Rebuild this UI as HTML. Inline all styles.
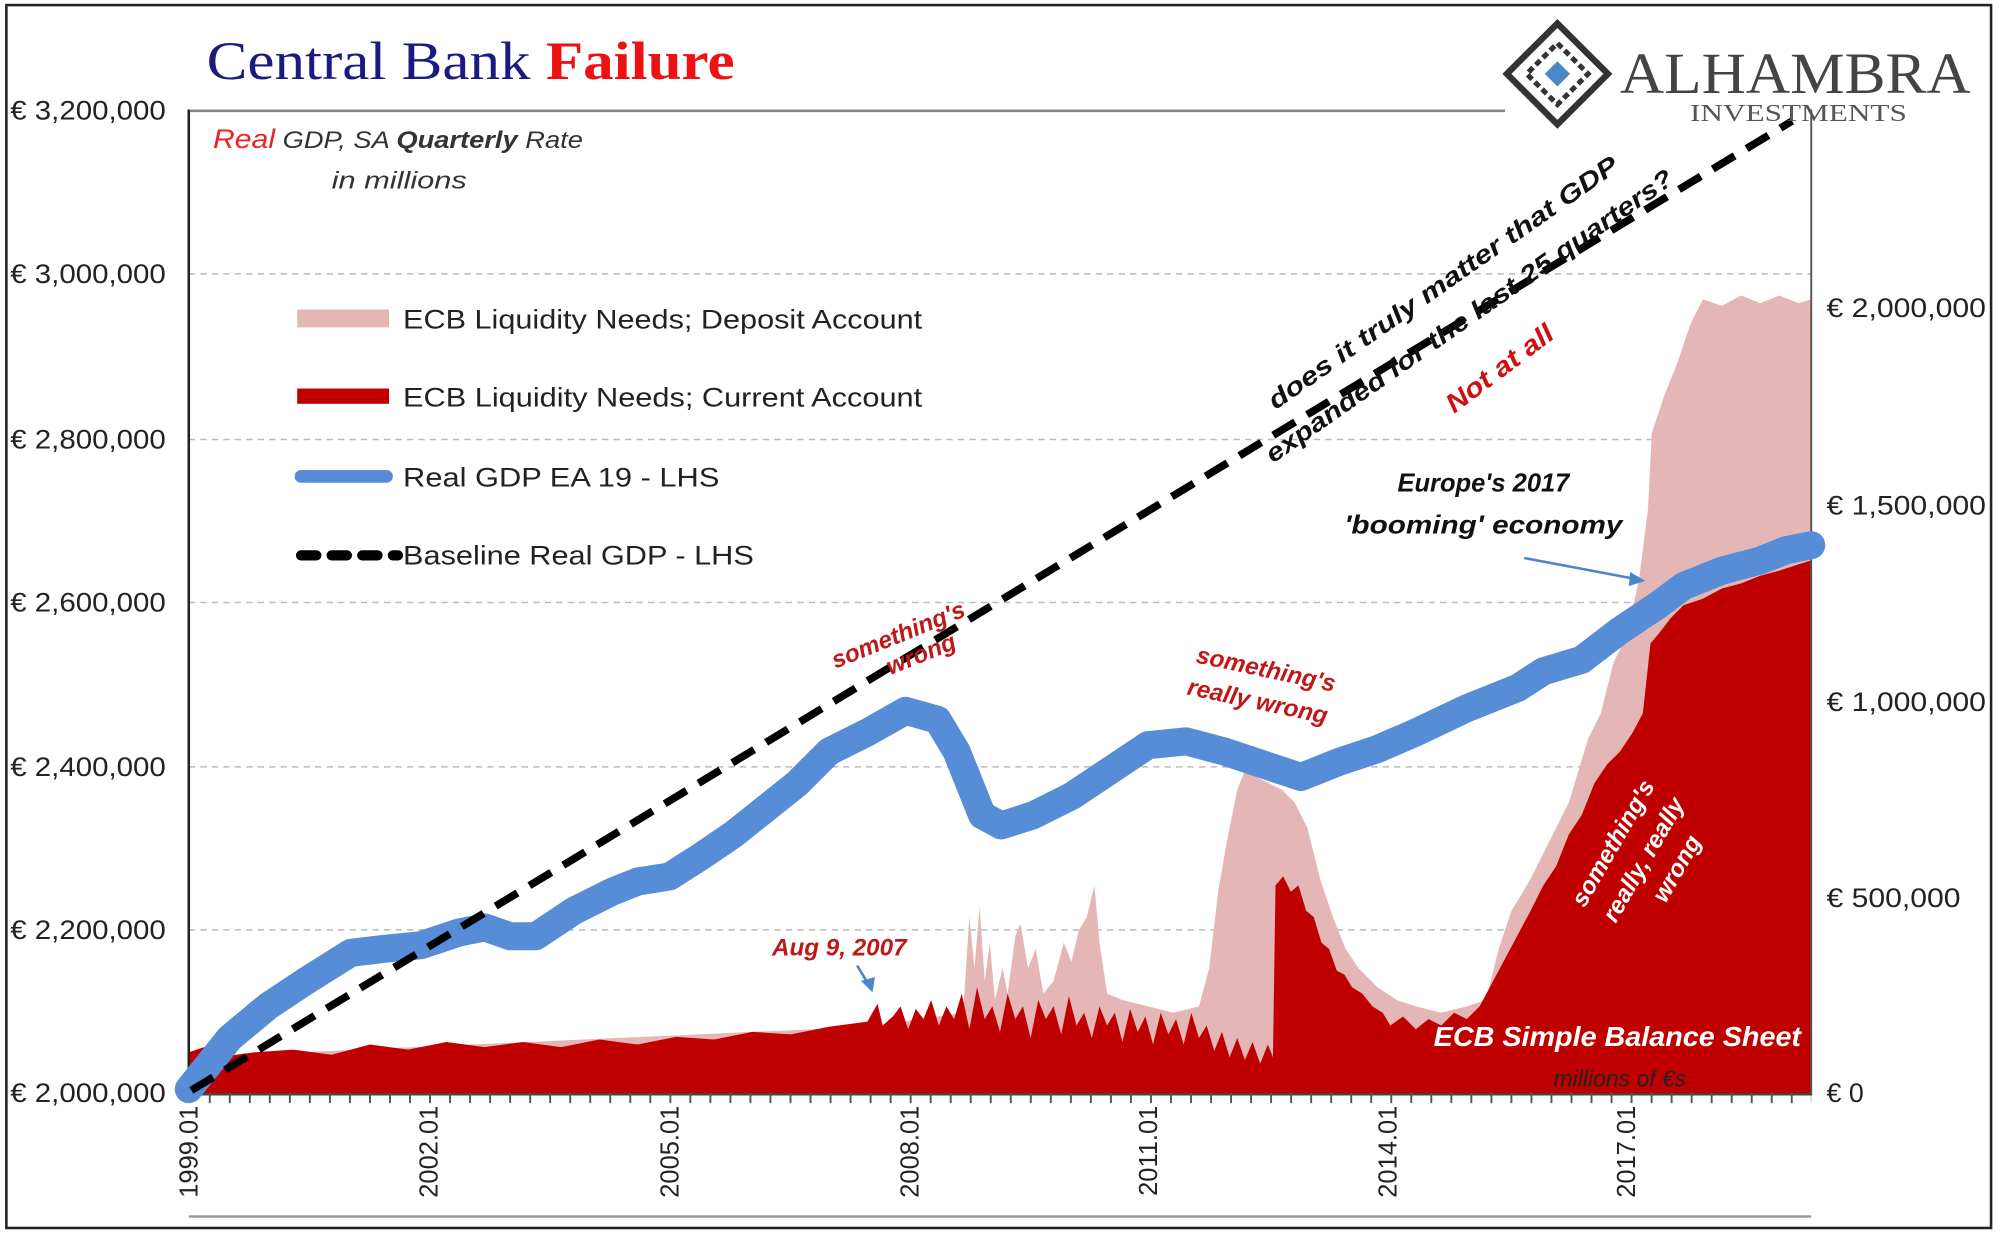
<!DOCTYPE html>
<html><head><meta charset="utf-8"><style>
html,body{margin:0;padding:0;background:#fff}
svg{display:block}
text{font-family:"Liberation Sans",sans-serif}
</style></head><body>
<svg width="2000" height="1242" viewBox="0 0 1568 975" preserveAspectRatio="none" xmlns="http://www.w3.org/2000/svg">
<rect x="0" y="0" width="1568" height="975" fill="#fff"/>
<rect x="5" y="4" width="1556" height="960" fill="none" stroke="#222" stroke-width="2"/>
<g stroke="#bbb" stroke-width="1.2" stroke-dasharray="5,4">
<line x1="148" y1="215" x2="1420" y2="215"/><line x1="148" y1="345" x2="1420" y2="345"/>
<line x1="148" y1="473" x2="1420" y2="473"/><line x1="148" y1="602" x2="1420" y2="602"/>
<line x1="148" y1="730" x2="1420" y2="730"/>
</g>
<line x1="148" y1="87" x2="1180" y2="87" stroke="#888" stroke-width="2"/>
<path fill="#e4b6b6" d="M148,858 L148,830 L680,806 L755,795 L760,720 L764,760 L768,712 L772,770 L776,740 L780,785 L786,760 L790,780 L796,735 L800,725 L806,760 L812,745 L818,780 L826,770 L834,740 L840,755 L846,730 L852,720 L858,695 L862,740 L868,780 L880,785 L900,790 L920,795 L940,790 L948,760 L955,700 L962,660 L970,620 L976,605 L985,610 L995,615 L1005,620 L1015,630 L1025,650 L1035,690 L1045,720 L1055,745 L1065,760 L1080,775 L1095,785 L1110,790 L1130,795 L1150,790 L1165,785 L1175,745 L1185,715 L1200,690 L1215,660 L1230,630 L1245,580 L1255,560 L1265,520 L1275,500 L1285,455 L1292,400 L1295,340 L1305,310 L1315,285 L1325,255 L1335,235 L1350,240 L1365,232 L1380,238 L1395,232 L1410,238 L1420,235 L1420,858 Z"/>
<path fill="#c00000" d="M148,858 L148,826 L160,822 L170,830 L200,826 L230,824 L260,828 L290,820 L320,824 L350,818 L380,822 L410,818 L440,822 L470,816 L500,820 L530,814 L560,816 L590,810 L620,812 L650,806 L680,802 L688,788 L692,805 L700,798 L706,790 L712,808 L718,792 L724,800 L730,785 L736,805 L742,790 L748,800 L754,780 L760,808 L766,775 L772,800 L778,790 L784,810 L790,780 L796,800 L802,790 L808,815 L814,785 L820,800 L826,790 L832,812 L838,782 L844,805 L850,795 L856,815 L862,790 L868,805 L874,795 L880,818 L886,792 L892,810 L898,798 L904,820 L910,795 L916,812 L922,800 L928,820 L934,795 L940,815 L946,805 L952,825 L958,810 L964,830 L970,815 L976,832 L982,818 L988,835 L994,820 L998,830 L1000,695 L1006,688 L1012,700 L1018,695 L1024,715 L1030,720 L1036,740 L1042,745 L1048,762 L1054,765 L1060,775 L1068,780 L1076,790 L1084,795 L1090,805 L1100,798 L1110,808 L1120,800 L1130,805 L1140,795 L1150,800 L1160,790 L1168,775 L1176,760 L1184,745 L1192,730 L1200,715 L1210,695 L1220,680 L1230,655 L1240,640 L1250,615 L1260,600 L1270,590 L1280,575 L1288,560 L1294,505 L1300,498 L1310,485 L1320,475 L1335,470 L1350,462 L1365,458 L1380,452 L1395,448 L1410,443 L1420,440 L1420,858 Z"/>
<line x1="148" y1="86" x2="148" y2="860" stroke="#222" stroke-width="2"/>
<line x1="1420" y1="86" x2="1420" y2="860" stroke="#555" stroke-width="1.5"/>
<line x1="148" y1="859" x2="1420" y2="859" stroke="#444" stroke-width="2"/>
<path stroke="#555" stroke-dasharray="1.5,14.2" d="M148,862 L1420,862" style="stroke-width:8"/>
<line x1="148" y1="955" x2="1420" y2="955" stroke="#999" stroke-width="2"/>
<polyline fill="none" stroke="#568dd6" stroke-width="22" stroke-linejoin="round" stroke-linecap="round" points="148,855 180,815 210,790 240,770 275,748 300,745 330,742 360,732 380,728 400,735 420,735 450,715 480,700 500,692 525,688 550,672 575,655 600,635 625,615 650,590 680,575 710,558 735,565 750,590 770,640 785,648 810,640 840,625 870,605 900,585 930,582 960,590 990,600 1020,610 1050,598 1080,588 1110,575 1150,556 1190,540 1210,527 1240,518 1270,495 1300,475 1320,460 1350,448 1380,440 1400,432 1420,428"/>
<line x1="150" y1="856" x2="1405" y2="95" stroke="#000" stroke-width="6" stroke-dasharray="20,11"/>
<g font-size="21" fill="#222" text-anchor="end">
<text x="130" y="94" textLength="122" lengthAdjust="spacingAndGlyphs">€ 3,200,000</text><text x="130" y="222" textLength="122" lengthAdjust="spacingAndGlyphs">€ 3,000,000</text>
<text x="130" y="352" textLength="122" lengthAdjust="spacingAndGlyphs">€ 2,800,000</text><text x="130" y="480" textLength="122" lengthAdjust="spacingAndGlyphs">€ 2,600,000</text>
<text x="130" y="609" textLength="122" lengthAdjust="spacingAndGlyphs">€ 2,400,000</text><text x="130" y="737" textLength="122" lengthAdjust="spacingAndGlyphs">€ 2,200,000</text>
<text x="130" y="865" textLength="122" lengthAdjust="spacingAndGlyphs">€ 2,000,000</text>
</g>
<g font-size="21" fill="#222">
<text x="1432" y="249" textLength="125" lengthAdjust="spacingAndGlyphs">€ 2,000,000</text><text x="1432" y="404" textLength="125" lengthAdjust="spacingAndGlyphs">€ 1,500,000</text>
<text x="1432" y="558" textLength="125" lengthAdjust="spacingAndGlyphs">€ 1,000,000</text><text x="1432" y="712" textLength="105" lengthAdjust="spacingAndGlyphs">€ 500,000</text>
<text x="1432" y="865">€ 0</text>
</g>
<g font-size="20" fill="#222" text-anchor="end">
<text transform="translate(155,868) rotate(-90)">1999.01</text>
<text transform="translate(343,868) rotate(-90)">2002.01</text>
<text transform="translate(532,868) rotate(-90)">2005.01</text>
<text transform="translate(720,868) rotate(-90)">2008.01</text>
<text transform="translate(907,868) rotate(-90)">2011.01</text>
<text transform="translate(1095,868) rotate(-90)">2014.01</text>
<text transform="translate(1282,868) rotate(-90)">2017.01</text>
</g>
<text x="162" y="62" font-size="42" fill="#1a1a80" style="font-family:'Liberation Serif',serif" textLength="414" lengthAdjust="spacingAndGlyphs">Central Bank <tspan fill="#ee1111" font-weight="bold">Failure</tspan></text>
<text x="167" y="116" font-size="19" font-style="italic" fill="#333" textLength="290" lengthAdjust="spacingAndGlyphs"><tspan fill="#ee2222" font-size="21">Real</tspan> GDP, SA <tspan font-weight="bold">Quarterly</tspan> Rate</text>
<text x="260" y="148" font-size="19" font-style="italic" fill="#333" textLength="106" lengthAdjust="spacingAndGlyphs">in millions</text>
<g transform="translate(1221,58)">
<rect x="-28" y="-28" width="56" height="56" transform="rotate(45)" fill="none" stroke="#333" stroke-width="5"/>
<rect x="-17" y="-17" width="34" height="34" transform="rotate(45)" fill="none" stroke="#333" stroke-width="4" stroke-dasharray="5,3"/>
<rect x="-7" y="-7" width="14" height="14" transform="rotate(45)" fill="#4a86c8"/>
</g>
<text x="1270" y="73" font-size="46" fill="#444" style="font-family:'Liberation Serif',serif" textLength="275" lengthAdjust="spacingAndGlyphs">ALHAMBRA</text>
<text x="1325" y="95" font-size="19" fill="#555" style="font-family:'Liberation Serif',serif" textLength="170" lengthAdjust="spacingAndGlyphs">INVESTMENTS</text>
<rect x="233" y="243" width="72" height="14" fill="#e4b6b6"/>
<rect x="233" y="305" width="72" height="12" fill="#c00000"/>
<line x1="236" y1="374" x2="303" y2="374" stroke="#568dd6" stroke-width="10" stroke-linecap="round"/>
<line x1="236" y1="436" x2="312" y2="436" stroke="#000" stroke-width="8" stroke-linecap="round" stroke-dasharray="12,12"/>
<g font-size="21" fill="#222">
<text x="316" y="258" textLength="407" lengthAdjust="spacingAndGlyphs">ECB Liquidity Needs; Deposit Account</text>
<text x="316" y="319" textLength="407" lengthAdjust="spacingAndGlyphs">ECB Liquidity Needs; Current Account</text>
<text x="316" y="382" textLength="248" lengthAdjust="spacingAndGlyphs">Real GDP EA 19 - LHS</text>
<text x="316" y="443" textLength="275" lengthAdjust="spacingAndGlyphs">Baseline Real GDP - LHS</text>
</g>
<g font-style="italic" font-weight="bold">
<text transform="translate(1000,322) rotate(-35)" font-size="20" fill="#111" textLength="330" lengthAdjust="spacingAndGlyphs">does it truly matter that GDP</text>
<text transform="translate(998,364) rotate(-35)" font-size="20" fill="#111" textLength="385" lengthAdjust="spacingAndGlyphs">expanded for the last 25 quarters?</text>
<text transform="translate(1140,325) rotate(-37)" font-size="21" fill="#d01010" textLength="100" lengthAdjust="spacingAndGlyphs">Not at all</text>
<text transform="translate(655,525) rotate(-22)" font-size="19" fill="#c01818">something's</text>
<text transform="translate(698,530) rotate(-22)" font-size="19" fill="#c01818">wrong</text>
<text transform="translate(937,520) rotate(12)" font-size="19" fill="#c01818">something's</text>
<text transform="translate(930,545) rotate(12)" font-size="19" fill="#c01818">really wrong</text>
<text x="1163" y="386" font-size="20" fill="#111" text-anchor="middle">Europe's 2017</text>
<text x="1163" y="419" font-size="20" fill="#111" text-anchor="middle" textLength="218" lengthAdjust="spacingAndGlyphs">'booming' economy</text>
<text x="658" y="750" font-size="19" fill="#c01818" text-anchor="middle">Aug 9, 2007</text>
<text transform="translate(1270,665) rotate(-60)" font-size="19" fill="#fff" text-anchor="middle">something's</text>
<text transform="translate(1294,678) rotate(-60)" font-size="19" fill="#fff" text-anchor="middle">really, really</text>
<text transform="translate(1320,685) rotate(-60)" font-size="19" fill="#fff" text-anchor="middle">wrong</text>
<text x="1268" y="821" font-size="22" fill="#fff" text-anchor="middle" textLength="288" lengthAdjust="spacingAndGlyphs">ECB Simple Balance Sheet</text>
</g>
<text x="1270" y="853" font-size="18" font-style="italic" fill="#222" text-anchor="middle">millions of €s</text>
<line x1="1195" y1="438" x2="1285" y2="455" stroke="#4a86c8" stroke-width="2"/>
<polygon points="1290,456 1278,449 1277,460" fill="#4a86c8"/>
<line x1="672" y1="758" x2="681" y2="773" stroke="#4a86c8" stroke-width="2"/>
<polygon points="684,779 675,770 686,767" fill="#4a86c8"/>
</svg>
</body></html>
